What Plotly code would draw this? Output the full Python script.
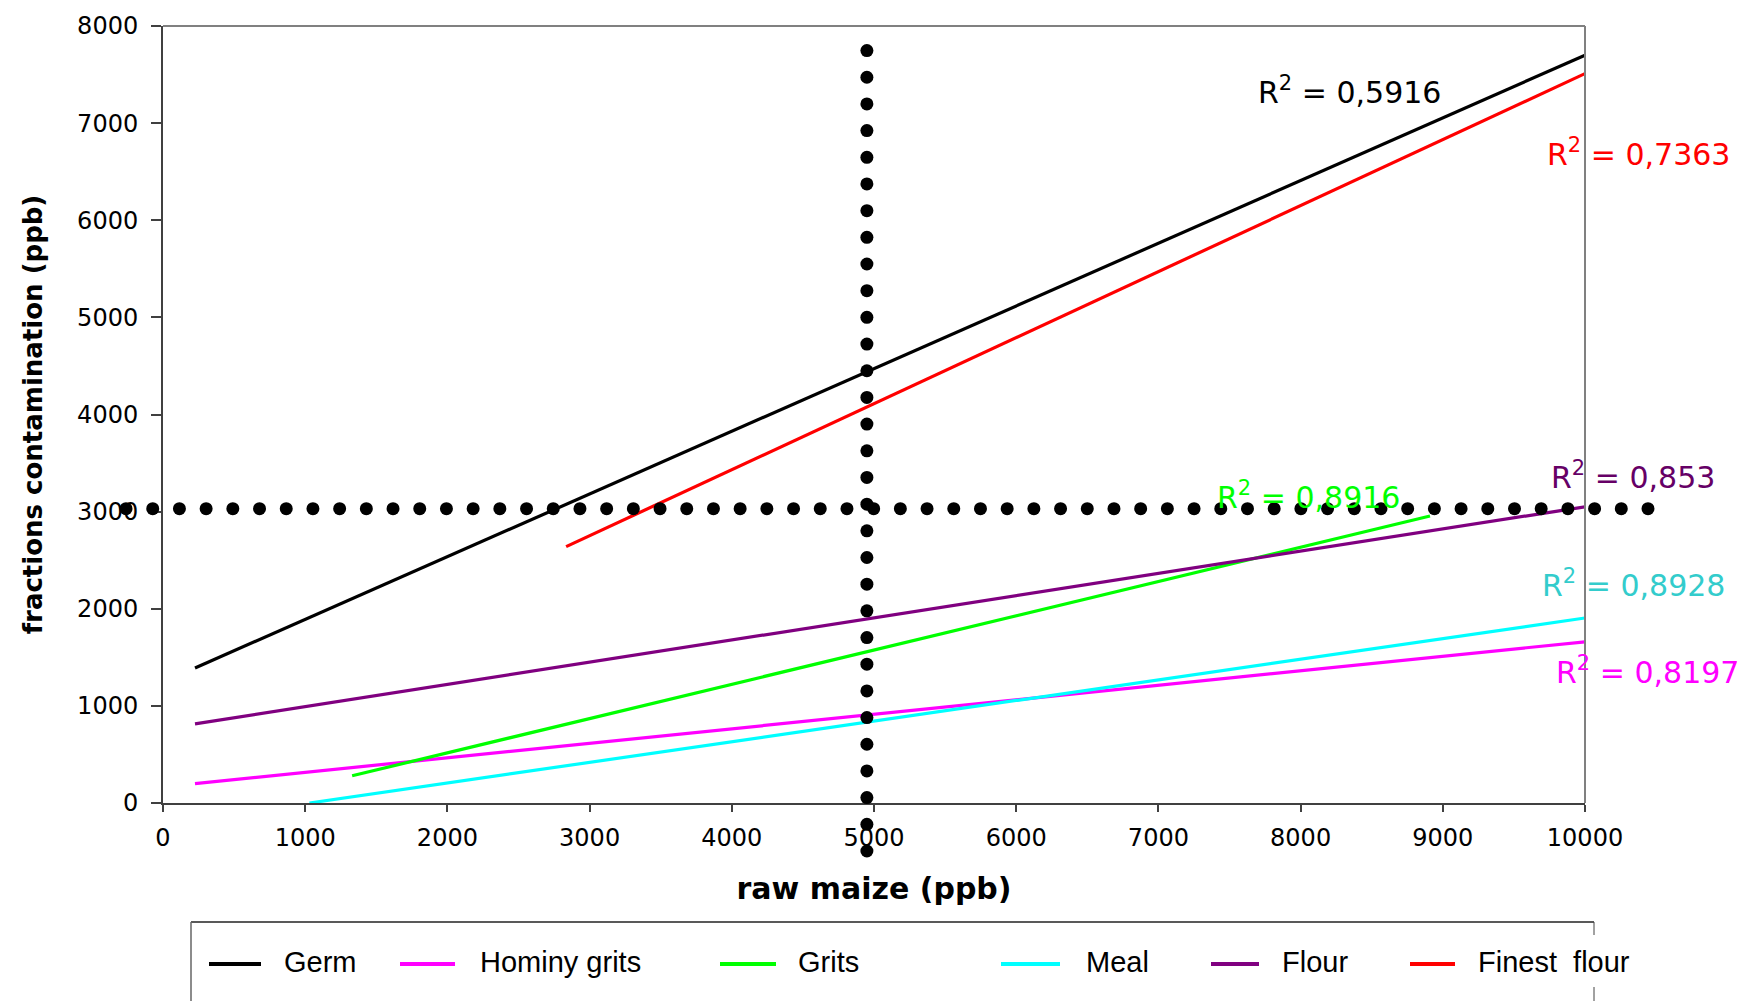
import numpy as np
import plotly.graph_objects as go

# ---------------- data ----------------
series_names = ["Germ", "Hominy grits", "Grits", "Meal", "Flour", "Finest  flour"]
germ_x, germ_y = [225, 10000], [1390, 7700]
hominy_x, hominy_y = [225, 10000], [200, 1660]
grits_x, grits_y = [1330, 8910], [280, 2955]
meal_x, meal_y = [1030, 10000], [0, 1905]
flour_x, flour_y = [225, 10000], [815, 3050]
finest_x, finest_y = [2835, 10000], [2640, 7510]
r2_values = ["0,5916", "0,8197", "0,8916", "0,8928", "0,853", "0,7363"]

x_ticks = [0, 1000, 2000, 3000, 4000, 5000, 6000, 7000, 8000, 9000, 10000]
y_ticks = [0, 1000, 2000, 3000, 4000, 5000, 6000, 7000, 8000]
x_range = [0, 10000]
y_range = [0, 8000]

# reference (dotted) guide lines
ref_x = 4950
ref_y = 3030
hdots_x = np.linspace(-260, 10443, 58)
vdots_y = np.linspace(7747, -494, 31)

# ---------------- styles ----------------
line_colors = ["#000000", "#FF00FF", "#00FF00", "#00FFFF", "#800080", "#FF0000"]
label_colors = ["#000000", "#FF00FF", "#00FF00", "#33CCCC", "#660066", "#FF0000"]
label_pos = [(7686, 7335), (9782, 1368), (7398, 3169), (9684, 2263), (9747, 3374), (9719, 6698)]

# ---------------- geometry (page pixels) ----------------
W, H = 1746, 1001
BODY = 8                      # default page margin around the plot div
AX_L, AX_R, AX_T, AX_B = 163, 1585, 26, 803   # main axes box on the page
# outer plotting region in figure pixels (holds the guide dots)
OL, OR, OT, OB = 100, 1700, 10, 900


def fx(px):
    return px - BODY


def xpap(px):
    return (fx(px) - OL) / (OR - OL)


def ypap(py):
    return (OB - fx(py)) / (OB - OT)


xdom = [xpap(AX_L), xpap(AX_R)]
ydom = [ypap(AX_B), ypap(AX_T)]
# secondary (hidden) axes spanning the whole region with identical scale
sx = (x_range[1] - x_range[0]) / (AX_R - AX_L)
sy = (y_range[1] - y_range[0]) / (AX_B - AX_T)
x2_range = [x_range[0] + (OL - fx(AX_L)) * sx, x_range[0] + (OR - fx(AX_L)) * sx]
y2_range = [y_range[0] + (fx(AX_B) - OB) * sy, y_range[0] + (fx(AX_B) - OT) * sy]

xs = [germ_x, hominy_x, grits_x, meal_x, flour_x, finest_x]
ys = [germ_y, hominy_y, grits_y, meal_y, flour_y, finest_y]

fig = go.Figure()
for name, x, y, c in zip(series_names, xs, ys, line_colors):
    fig.add_trace(go.Scatter(x=x, y=y, mode="lines", name=name,
                             line=dict(color=c, width=3.2), showlegend=False))

fig.add_trace(go.Scatter(x=hdots_x, y=[ref_y] * len(hdots_x), mode="markers",
                         marker=dict(color="black", size=13), cliponaxis=False,
                         xaxis="x2", yaxis="y2", showlegend=False))
fig.add_trace(go.Scatter(x=[ref_x] * len(vdots_y), y=vdots_y, mode="markers",
                         marker=dict(color="black", size=13), cliponaxis=False,
                         xaxis="x2", yaxis="y2", showlegend=False))

# R^2 labels
for val, (px, py), c in zip(r2_values, label_pos, label_colors):
    fig.add_annotation(x=px, y=py, xref="x", yref="y", text="R<sup>2</sup> = " + val,
                       showarrow=False, xanchor="left", yanchor="middle",
                       font=dict(family="DejaVu Sans", size=30, color=c))

shapes = []
# top and right plot border
shapes.append(dict(type="line", xref="x domain", yref="y domain", x0=0, x1=1, y0=1, y1=1,
                   line=dict(color="#808080", width=2)))
shapes.append(dict(type="line", xref="x domain", yref="y domain", x0=1, x1=1, y0=0, y1=1,
                   line=dict(color="#808080", width=2)))
# legend box
shapes.append(dict(type="line", xref="paper", yref="paper", x0=xpap(191), x1=xpap(1594),
                   y0=ypap(922), y1=ypap(922), line=dict(color="#222222", width=1.5)))
shapes.append(dict(type="line", xref="paper", yref="paper", x0=xpap(191), x1=xpap(191),
                   y0=ypap(922), y1=ypap(1012), line=dict(color="#666666", width=1.5)))
shapes.append(dict(type="line", xref="paper", yref="paper", x0=xpap(1594), x1=xpap(1594),
                   y0=ypap(922), y1=ypap(935), line=dict(color="#444444", width=1)))
shapes.append(dict(type="line", xref="paper", yref="paper", x0=xpap(1594), x1=xpap(1594),
                   y0=ypap(987), y1=ypap(1012), line=dict(color="#444444", width=1)))

leg_sym = [(209, 261), (400, 455), (720, 776), (1001, 1060), (1211, 1259), (1410, 1455)]
leg_txt = [282, 478, 796, 1084, 1280, 1476]
leg_y = 964
for name, c, (a, b), t in zip(series_names, line_colors, leg_sym, leg_txt):
    shapes.append(dict(type="line", xref="paper", yref="paper", x0=xpap(a), x1=xpap(b),
                       y0=ypap(leg_y), y1=ypap(leg_y), line=dict(color=c, width=4)))
    fig.add_annotation(x=xpap(t), y=ypap(leg_y - 2), xref="paper", yref="paper", text=name,
                       showarrow=False, xanchor="left", yanchor="middle",
                       font=dict(family="Liberation Sans, Arial", size=29, color="black"))

fig.update_layout(
    width=W, height=H,
    margin=dict(l=OL, r=W - OR, t=OT, b=H - OB, autoexpand=False),
    paper_bgcolor="white", plot_bgcolor="rgba(0,0,0,0)",
    shapes=shapes,
    showlegend=False,
    xaxis=dict(domain=xdom, range=x_range, tickvals=x_ticks,
               ticktext=[str(v) for v in x_ticks],
               showgrid=False, zeroline=False, showline=True, linecolor="#404040",
               linewidth=2, ticks="outside", ticklen=7, tickwidth=1.5, tickcolor="#404040",
               ticklabelstandoff=5,
               tickfont=dict(family="DejaVu Sans", size=24, color="black"),
               title=dict(text="<b>raw maize (ppb)</b>", standoff=27,
                          font=dict(family="DejaVu Sans", size=30, color="black")),
               automargin=False, anchor="y"),
    yaxis=dict(domain=ydom, range=y_range, tickvals=y_ticks,
               ticktext=[str(v) for v in y_ticks],
               showgrid=False, zeroline=False, showline=True, linecolor="#404040",
               linewidth=2, ticks="outside", ticklen=10, tickwidth=1.5, tickcolor="#404040",
               ticklabelstandoff=8,
               tickfont=dict(family="DejaVu Sans", size=24, color="black"),
               title=dict(text="<b>fractions contamination (ppb)</b>", standoff=27,
                          font=dict(family="DejaVu Sans", size=26, color="black")),
               automargin=False, anchor="x"),
    xaxis2=dict(domain=[0, 1], range=x2_range, visible=False, anchor="y2", fixedrange=True),
    yaxis2=dict(domain=[0, 1], range=y2_range, visible=False, anchor="x2", fixedrange=True),
)

fig.write_html("out.html")
